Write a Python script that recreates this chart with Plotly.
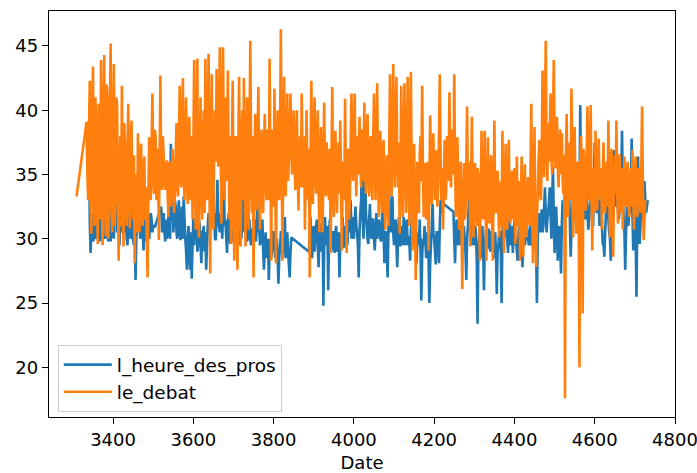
import plotly.graph_objects as go

# ---------------- data ----------------
# le_debat: first point, then a regular grid from 3334 to 4726:
# main values every 4 days, and the in-between readings (2 days later) in *_mid
debat_first_date = 3309
debat_first_value = 33.3
debat_grid_start = 3334
debat_values = [
    39.1, 33.0, 42.3, 30.4, 43.4, 31.0, 38.5, 29.6, 36.0, 43.9,
    29.5, 44.3, 30.2, 41.0, 32.0, 45.2, 30.5, 43.6, 33.5, 40.5,
    28.3, 38.0, 41.9, 29.4, 37.0, 31.0, 40.5, 30.8, 39.2, 31.5,
    28.1, 35.0, 38.2, 30.5, 37.4, 31.0, 36.4, 34.0, 27.0, 37.9,
    33.0, 41.3, 33.5, 37.9, 34.0, 29.9, 42.7, 33.8, 36.4, 33.8,
    36.1, 31.7, 35.8, 33.8, 35.5, 33.5, 39.0, 33.3, 41.9, 34.0,
    42.5, 33.0, 41.0, 32.7, 39.5, 34.0, 31.5, 43.9, 30.7, 44.0,
    30.1, 41.0, 31.5, 40.0, 44.0, 33.0, 44.4, 27.3, 42.8, 30.7,
    40.0, 43.2, 35.6, 44.9, 31.2, 44.9, 33.0, 38.0, 43.1, 31.5,
    29.6, 42.3, 28.3, 38.0, 27.6, 42.6, 29.4, 40.0, 42.5, 29.4,
    41.0, 30.7, 45.4, 32.0, 27.0, 39.7, 32.2, 41.8, 30.7, 38.5,
    32.0, 39.7, 33.0, 38.0, 44.0, 28.3, 36.0, 41.7, 28.1, 40.0,
    33.0, 46.3, 28.3, 42.6, 33.3, 41.3, 36.0, 41.3, 35.0, 40.0,
    33.8, 40.0, 32.2, 38.0, 41.3, 34.0, 30.7, 40.0, 33.0, 27.0,
    42.3, 32.7, 41.0, 33.5, 40.0, 30.5, 38.7, 30.5, 40.6, 33.3,
    36.4, 33.0, 28.9, 41.8, 31.7, 38.4, 32.0, 37.5, 39.2, 29.1,
    36.0, 40.9, 28.9, 37.0, 33.0, 41.3, 34.5, 41.3, 33.3, 38.0,
    39.5, 34.0, 37.4, 40.6, 33.5, 39.7, 33.3, 38.0, 33.0, 41.3,
    33.0, 42.1, 31.7, 38.4, 32.0, 37.7, 30.7, 36.5, 31.0, 42.8,
    33.3, 43.6, 34.0, 42.6, 34.0, 30.4, 41.9, 31.7, 42.1, 32.0,
    42.6, 31.0, 43.0, 29.1, 37.4, 26.8, 36.0, 32.0, 38.0, 41.9,
    31.7, 35.9, 33.0, 29.1, 39.6, 32.7, 38.2, 33.0, 36.9, 34.0,
    42.8, 33.0, 30.7, 37.7, 33.8, 36.5, 41.4, 34.0, 37.0, 42.8,
    31.7, 37.9, 30.7, 36.0, 26.1, 35.9, 32.0, 40.3, 33.0, 29.4,
    39.5, 30.1, 35.9, 31.0, 35.0, 28.3, 38.4, 31.5, 38.4, 28.3,
    37.9, 31.2, 36.5, 28.3, 39.2, 32.0, 35.3, 30.1, 34.5, 38.4,
    28.9, 37.4, 30.7, 37.7, 31.2, 35.3, 33.0, 29.6, 36.4, 33.0,
    28.3, 36.4, 28.6, 35.8, 30.1, 34.8, 31.0, 40.5, 28.1, 38.7,
    27.8, 33.5, 37.7, 33.0, 43.1, 34.8, 45.4, 34.5, 36.0, 41.3,
    35.0, 43.9, 35.5, 39.5, 34.0, 38.5, 38.2, 33.5, 17.6, 39.7,
    31.7, 37.5, 41.7, 30.1, 38.7, 30.4, 36.0, 20.0, 38.0, 24.2,
    36.0, 32.2, 40.3, 33.0, 40.4, 29.1, 35.0, 38.4, 32.2, 37.8,
    33.0, 30.7, 37.5, 32.0, 36.0, 39.2, 30.1, 37.0, 28.6, 36.5,
    39.2, 31.2, 36.6, 32.0, 30.7, 36.4, 32.5, 36.0, 31.7, 35.5,
    36.9, 30.7, 36.4, 31.7, 35.5, 32.0, 40.3, 29.9, 33.0,
]
debat_mid = [
    35.0, 38.5, 33.0, 40.0, 34.5, 41.0, 33.0, 40.5, 31.5, 33.0,
    39.5, 33.0, 42.0, 30.0, 40.0, 33.5, 38.0, 31.0, 41.0, 33.0,
    35.5, 31.0, 34.0, 39.0, 32.5, 37.0, 33.0, 37.5, 33.0, 36.5,
    34.0, 30.5, 33.0, 36.0, 32.0, 35.5, 31.5, 30.0, 33.5, 35.0,
    37.0, 35.0, 38.5, 33.0, 37.0, 36.0, 35.0, 38.0, 34.5, 35.5,
    33.5, 36.0, 32.5, 37.0, 32.0, 36.5, 34.0, 37.5, 35.0, 38.5,
    35.0, 38.0, 34.5, 37.0, 33.0, 38.0, 36.5, 35.0, 38.0, 32.0,
    36.0, 34.5, 37.5, 32.0, 37.0, 39.0, 35.0, 36.0, 34.0, 37.5,
    36.0, 38.0, 40.0, 36.5, 39.0, 36.0, 41.0, 34.5, 35.5, 38.0,
    36.0, 34.0, 36.5, 32.5, 37.0, 33.5, 37.5, 33.0, 35.0, 37.0,
    34.5, 38.5, 36.0, 38.0, 35.0, 34.0, 38.0, 34.5, 36.0, 33.5,
    37.0, 34.5, 38.5, 33.0, 36.0, 38.5, 32.5, 35.0, 37.0, 35.5,
    38.0, 36.5, 37.0, 35.5, 38.0, 34.5, 38.5, 37.5, 38.0, 36.0,
    37.5, 35.0, 36.5, 34.0, 36.0, 38.0, 35.5, 35.0, 37.0, 36.0,
    36.5, 38.0, 35.0, 37.5, 34.0, 36.0, 33.5, 36.0, 35.5, 37.5,
    34.0, 37.0, 35.5, 35.0, 36.5, 34.0, 36.0, 33.5, 34.0, 35.5,
    33.0, 35.0, 34.5, 31.5, 37.5, 36.0, 38.0, 36.0, 37.0, 35.0,
    36.0, 38.5, 34.5, 35.5, 37.5, 35.0, 37.0, 34.5, 37.5, 35.5,
    38.0, 35.5, 36.0, 34.0, 36.5, 33.5, 35.0, 33.0, 37.5, 36.0,
    38.5, 37.0, 39.5, 36.0, 37.5, 35.5, 35.0, 37.0, 36.5, 36.0,
    36.0, 38.0, 35.0, 34.5, 32.5, 33.0, 33.5, 36.5, 34.5, 35.5,
    34.5, 31.5, 36.0, 34.0, 35.0, 36.5, 34.5, 36.0, 32.5, 38.0,
    36.5, 35.5, 34.0, 33.0, 38.0, 34.5, 36.0, 38.5, 35.0, 36.0,
    34.5, 33.5, 34.5, 31.5, 32.0, 31.5, 35.5, 34.0, 36.0, 34.0,
    33.5, 34.5, 32.0, 35.5, 32.0, 33.5, 33.0, 34.5, 32.5, 33.0,
    33.0, 34.5, 31.5, 33.5, 33.0, 35.0, 32.0, 34.0, 31.0, 33.0,
    33.5, 32.5, 34.5, 32.5, 34.0, 31.5, 35.5, 33.0, 31.0, 34.5,
    33.0, 31.5, 33.0, 31.5, 33.5, 32.0, 35.5, 33.0, 32.5, 31.5,
    31.5, 36.0, 33.5, 36.5, 37.0, 39.5, 37.5, 39.0, 38.0, 36.5,
    39.0, 37.5, 38.0, 35.5, 37.0, 35.0, 34.5, 36.5, 36.0, 35.0,
    35.0, 33.0, 36.0, 35.0, 34.0, 35.5, 33.0, 36.0, 35.0, 37.0,
    33.5, 36.5, 34.0, 37.0, 33.0, 35.5, 32.0, 34.0, 35.5, 34.0,
    35.5, 34.5, 33.0, 35.0, 32.5, 34.0, 34.5, 32.5, 34.0, 33.5,
    34.0, 34.5, 33.0, 35.5, 34.0, 33.0, 35.0, 33.0, 34.5, 32.5,
    33.5, 34.0, 33.0, 35.0, 33.0, 35.5, 34.0, 31.5,
]

# l_heure_des_pros: four runs (gaps between runs), main values every 4 days
# plus the in-between readings 2 days later
pros_run_starts = [3340, 3520, 3888, 4248]
pros_run1 = [
    39.2, 28.9, 32.0, 30.0, 33.5, 31.0, 32.5, 29.8, 34.3, 31.0,
    30.0, 32.5, 29.8, 33.0, 30.5, 31.5, 34.0, 38.8, 31.0, 29.5,
    33.0, 36.6, 30.5, 32.0, 29.5, 33.5, 30.0, 31.5, 29.5, 26.8,
    31.0, 33.0, 30.0, 32.7, 29.1, 31.5, 30.5, 32.0, 30.9, 31.5,
    31.0, 30.9,
]
pros_run1_mid = [
    31.5, 31.0, 29.8, 32.0, 30.0, 32.5, 30.5, 32.0, 30.0, 32.5,
    31.0, 30.5, 31.5, 29.8, 32.5, 30.0, 32.0, 30.5, 32.0, 31.5,
    30.5, 31.5, 33.0, 30.0, 31.5, 30.5, 32.5, 30.0, 31.5, 30.0,
    32.0, 31.0, 31.5, 30.5, 32.0, 29.8, 31.0, 30.0, 32.0, 30.5,
    31.0,
]
pros_run2 = [
    32.5, 31.0, 30.5, 31.5, 30.4, 31.0, 37.4, 33.0, 31.5, 32.5,
    30.0, 33.0, 29.9, 32.5, 33.3, 30.0, 27.6, 31.0, 27.6, 26.9,
    31.7, 30.7, 31.5, 29.5, 31.0, 28.1, 30.5, 29.0, 27.6, 31.0,
    30.5, 33.0, 35.1, 31.5, 29.9, 34.6, 31.0, 32.0, 30.0, 34.8,
    31.5, 28.9, 32.0, 29.6, 31.0, 30.0, 31.7, 29.6, 30.5, 31.0,
    30.1, 33.3, 30.5, 31.5, 30.1, 31.5, 29.5, 30.8, 31.5, 29.8,
    33.3, 31.0, 30.0, 31.5, 27.6, 30.5, 29.5, 26.8, 30.0, 29.0,
    30.5, 28.5, 30.0, 26.5, 29.4, 30.5, 29.0, 31.7, 29.8, 29.0,
    27.0, 30.1,
]
pros_run2_mid = [
    30.5, 32.0, 29.8, 30.0, 32.0, 30.0, 31.5, 30.5, 33.0, 30.5,
    32.0, 30.5, 31.5, 30.0, 31.5, 29.0, 30.0, 28.8, 30.5, 29.5,
    29.5, 31.0, 29.0, 31.5, 29.5, 30.5, 31.0, 30.5, 29.5, 32.0,
    31.5, 31.0, 32.5, 30.0, 32.0, 31.5, 30.5, 31.5, 32.0, 31.0,
    30.0, 31.0, 30.5, 30.5, 29.8, 31.0, 30.5, 31.0, 29.5, 30.0,
    31.5, 31.0, 32.0, 29.8, 30.5, 30.0, 30.5, 29.5, 30.0, 31.0,
    30.5, 29.5, 31.0, 29.0, 29.5, 28.5, 30.0, 29.0, 28.5, 30.5,
    29.5, 29.8, 28.5, 28.5, 30.5, 28.5, 30.0, 28.5, 30.5, 28.0,
    29.0,
]
pros_run3 = [
    29.0, 31.7, 28.5, 31.0, 30.0, 31.5, 27.8, 31.2, 30.0, 24.8,
    31.7, 29.5, 26.0, 31.5, 29.0, 30.5, 28.9, 31.0, 29.5, 27.0,
    30.5, 31.7, 29.3, 30.8, 29.6, 31.5, 33.0, 31.7, 30.0, 32.5,
    30.5, 27.0, 32.0, 36.0, 30.0, 35.9, 31.0, 29.6, 32.7, 30.0,
    31.5, 29.1, 32.0, 30.5, 31.0, 29.8, 33.5, 28.1, 30.5, 27.0,
    33.8, 30.5, 33.3, 29.5, 31.5, 27.8, 31.7, 29.4, 30.5, 31.7,
    29.5, 31.5, 30.2, 28.3, 31.7, 30.0, 32.0, 28.1, 30.5, 31.5,
    25.2, 30.0, 31.0, 28.5, 30.5, 25.0, 29.5, 32.7, 30.0, 28.0,
    30.5, 28.1, 33.0, 35.1, 32.7,
]
pros_run3_mid = [
    30.5, 29.5, 30.5, 29.0, 31.0, 29.5, 30.0, 29.0, 31.5, 29.5,
    30.0, 31.0, 30.0, 29.5, 30.5, 29.5, 30.5, 29.0, 30.5, 29.5,
    30.0, 30.0, 31.0, 29.5, 31.0, 30.5, 30.0, 30.5, 31.5, 31.0,
    29.5, 30.5, 33.0, 31.5, 32.5, 32.0, 30.0, 31.5, 30.5, 31.5,
    30.0, 30.5, 30.0, 31.5, 30.0, 31.5, 30.5, 30.5, 29.0, 30.5,
    31.5, 32.0, 30.5, 31.0, 29.5, 30.0, 30.5, 31.0, 29.5, 30.0,
    31.0, 29.5, 30.0, 30.5, 29.5, 31.0, 30.0, 30.0, 29.5, 29.0,
    28.5, 29.5, 30.0, 29.8, 28.5, 28.0, 31.0, 30.5, 29.0, 30.5,
    29.5, 31.0, 32.0, 33.5,
]
pros_run4 = [
    32.1, 28.1, 31.5, 29.5, 30.8, 31.7, 29.6, 30.0, 26.8, 31.0,
    35.3, 29.5, 31.5, 29.8, 30.5, 23.4, 30.0, 28.5, 31.0, 26.0,
    30.0, 29.2, 30.8, 29.0, 30.5, 28.5, 30.5, 25.7, 29.5, 30.5,
    25.0, 32.5, 30.1, 32.0, 28.9, 31.7, 30.0, 28.9, 31.5, 30.0,
    28.3, 31.5, 29.8, 27.8, 31.0, 30.1, 30.7, 29.5, 31.0, 30.0,
    29.5, 31.5, 25.0, 32.0, 30.5, 32.3, 31.0, 34.0, 30.5, 32.0,
    34.0, 30.0, 35.6, 28.9, 32.5, 28.3, 31.0, 27.3, 33.0, 31.5,
    34.8, 31.7, 34.5, 28.6, 32.0, 33.5, 31.5, 32.5, 31.0, 40.4,
    30.7, 34.0, 31.5, 33.5, 30.7, 32.5, 34.0, 31.0, 37.5, 32.0,
    34.5, 31.0, 33.5, 29.6, 28.6, 32.0, 33.0, 30.5, 28.3, 33.0,
    36.9, 32.5, 35.0, 31.5, 33.0, 38.4, 31.7, 27.6, 32.5, 31.0,
    32.0, 37.8, 29.1, 33.5, 25.5, 36.4, 29.6, 34.0, 31.5, 34.5,
    32.0, 33.0,
]
pros_run4_mid = [
    30.0, 30.5, 29.8, 31.0, 29.5, 30.0, 31.0, 29.0, 30.0, 32.5,
    31.5, 31.0, 29.5, 31.0, 28.5, 29.0, 30.5, 30.0, 29.5, 29.5,
    31.0, 30.0, 29.5, 30.5, 29.5, 30.0, 29.0, 29.0, 30.5, 29.0,
    30.0, 31.0, 31.5, 30.0, 30.5, 29.5, 31.0, 30.5, 29.5, 29.0,
    30.0, 30.5, 31.0, 30.0, 29.5, 31.5, 30.0, 30.5, 29.5, 30.5,
    31.0, 29.0, 30.0, 31.0, 31.5, 30.5, 32.5, 32.0, 31.5, 33.0,
    32.0, 33.0, 31.5, 31.0, 30.5, 30.0, 29.5, 31.0, 32.0, 33.0,
    32.5, 33.0, 31.5, 30.5, 33.0, 32.0, 31.0, 32.0, 33.5, 33.0,
    32.5, 33.0, 32.0, 32.0, 31.5, 33.0, 32.0, 34.0, 33.5, 33.0,
    32.5, 32.0, 31.0, 29.5, 30.5, 32.5, 31.5, 30.0, 31.0, 34.5,
    33.5, 33.5, 32.0, 32.5, 35.0, 34.0, 30.5, 30.5, 31.5, 32.5,
    34.0, 32.0, 31.0, 30.0, 31.5, 32.0, 31.0, 32.5, 33.0, 33.0,
    32.5,
]
step_days = 4

x_ticks = [3400, 3600, 3800, 4000, 4200, 4400, 4600, 4800]
y_ticks = [20, 25, 30, 35, 40, 45]


# ---------------- build series ----------------
def merge(start, main, mid):
    xs, ys = [], []
    for i, v in enumerate(main):
        xs.append(start + step_days * i)
        ys.append(v)
        if i < len(mid):
            xs.append(start + step_days * i + step_days // 2)
            ys.append(mid[i])
    return xs, ys


dx, dy = merge(debat_grid_start, debat_values, debat_mid)
debat_x = [debat_first_date] + dx
debat_y = [debat_first_value] + dy

pros_x, pros_y = [], []
for start, run, mid in zip(pros_run_starts,
                           [pros_run1, pros_run2, pros_run3, pros_run4],
                           [pros_run1_mid, pros_run2_mid, pros_run3_mid, pros_run4_mid]):
    xs, ys = merge(start, run, mid)
    pros_x += xs
    pros_y += ys

FONT = "DejaVu Sans, Liberation Sans, sans-serif"
fig = go.Figure()
fig.add_trace(go.Scatter(x=pros_x, y=pros_y, mode="lines", name="l_heure_des_pros",
                         line=dict(color="#1f77b4", width=2.6, simplify=False), legendgroup="a"))
fig.add_trace(go.Scatter(x=debat_x, y=debat_y, mode="lines", name="le_debat",
                         line=dict(color="#ff7f0e", width=2.6, simplify=False), legendgroup="b"))

axis_common = dict(showgrid=False, zeroline=False, showline=True, mirror=True,
                   linecolor="black", linewidth=1.3, ticks="outside", ticklen=6,
                   tickwidth=1.3, tickcolor="black", ticklabeloverflow="allow",
                   automargin=False,
                   tickfont=dict(family=FONT, size=18, color="black"))
fig.update_xaxes(range=[3240.4, 4800], tickvals=x_ticks,
                 title=dict(text="Date", font=dict(family=FONT, size=18, color="black"), standoff=14),
                 **axis_common)
fig.update_yaxes(range=[16.14, 47.72], tickvals=y_ticks, **axis_common)

fig.update_layout(
    width=697, height=473,
    margin=dict(l=49, r=22, t=11, b=56, autoexpand=False),
    paper_bgcolor="white", plot_bgcolor="white",
    font=dict(family=FONT, size=18, color="black"),
    showlegend=True,
    legend=dict(x=0.014, y=0.012, xanchor="left", yanchor="bottom",
                bgcolor="rgba(255,255,255,0.8)", bordercolor="#cccccc", borderwidth=1,
                font=dict(family=FONT, size=18.5, color="black"),
                itemwidth=48, tracegroupgap=6, traceorder="normal"),
)

fig.write_html("out.html")
